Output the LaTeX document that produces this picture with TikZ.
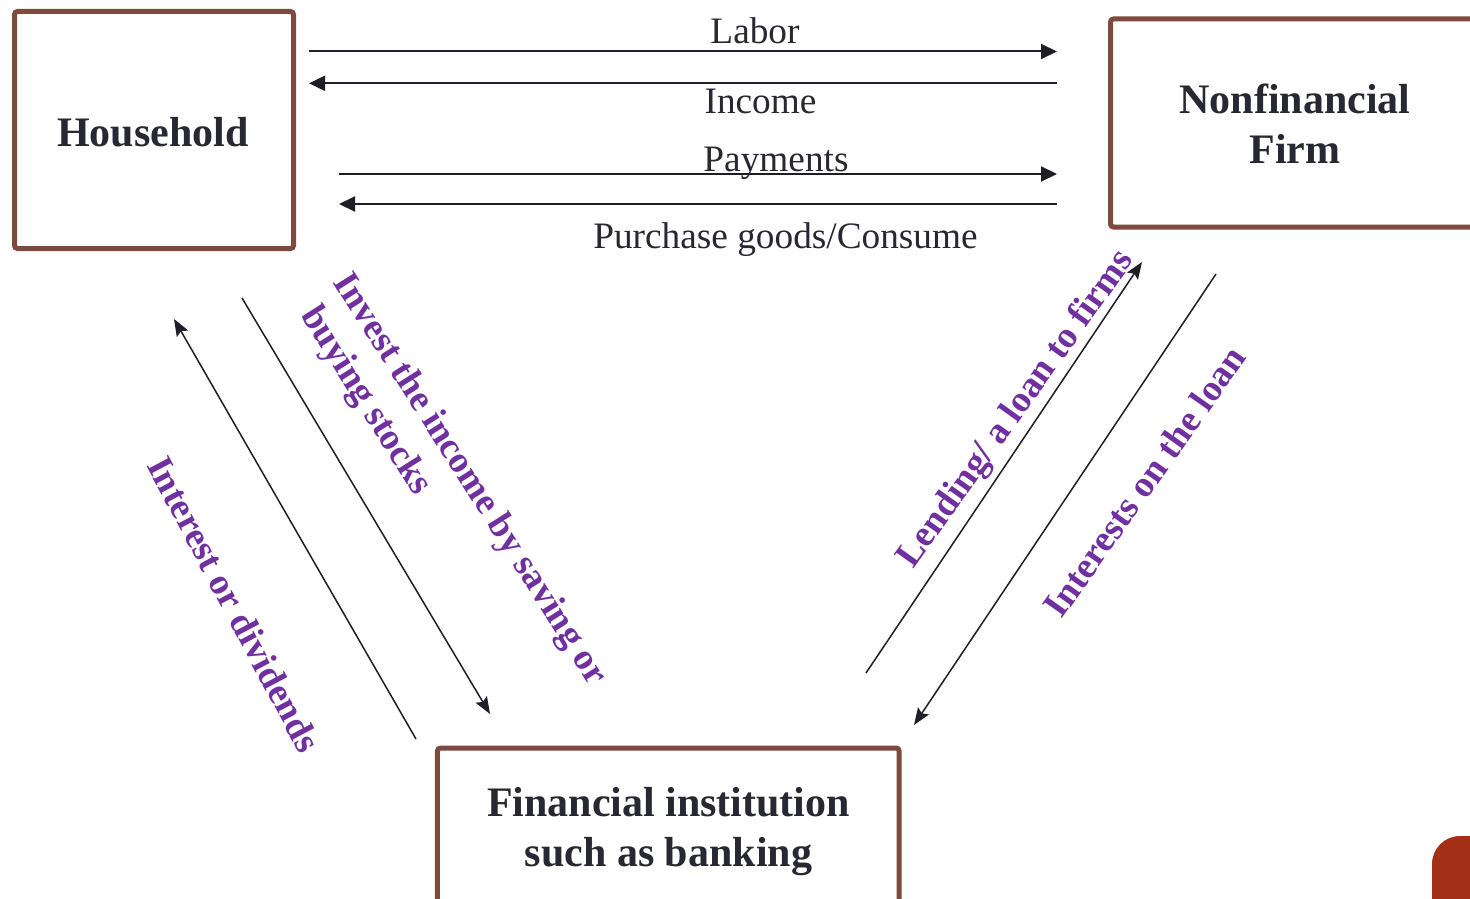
\documentclass[tikz,border=0pt]{standalone}
\usepackage{fontspec}
\setmainfont{Liberation Serif}
\usetikzlibrary{arrows.meta}
\definecolor{boxbrown}{RGB}{126,74,62}
\definecolor{txtdark}{RGB}{40,40,50}
\definecolor{lblpurple}{RGB}{112,48,160}
\definecolor{linedark}{RGB}{30,30,38}
\definecolor{cornerred}{RGB}{165,48,24}
\tikzset{
  boxnode/.style={draw=boxbrown, line width=5pt, rounded corners=3pt, rectangle, inner sep=0pt},
  boxtext/.style={anchor=base, inner sep=0pt, text=txtdark, font=\fontsize{42}{50}\selectfont\bfseries},
  flowtext/.style={anchor=base, inner sep=0pt, text=txtdark, font=\fontsize{37.3}{44}\selectfont},
  purptext/.style={anchor=base west, inner sep=0pt, text=lblpurple, font=\fontsize{37}{44}\selectfont\bfseries},
  toparrow/.style={draw=linedark, line width=2pt, -{Triangle[length=16pt,width=15pt]}},
  diagarrow/.style={draw=linedark, line width=1.5pt, -{Stealth[length=17pt,width=13pt,inset=3pt]}}
}
\begin{document}
\begin{tikzpicture}[x=1pt,y=-1pt]
\useasboundingbox (0,0) rectangle (1470,899);
\clip (0,0) rectangle (1470,899);

% corner decoration
\fill[cornerred, rounded corners=28pt] (1432,836) rectangle (1520,960);

% boxes
\node[boxnode, minimum width=279pt, minimum height=237pt] (hh) at (154,130) {};
\node[boxnode, minimum width=369.5pt, minimum height=208pt] (nf) at (1295.25,123) {};
\node[boxnode, minimum width=461.7pt, minimum height=212pt] (fi) at (668.3,854) {};

\node[boxtext] (hhT) at (153,146.7) {Household};
\node[boxtext] (nfT1) at (1295,113.3) {Nonfinancial};
\node[boxtext] (nfT2) at (1295,163.3) {Firm};
\node[boxtext] (fiT1) at (668.5,816) {Financial institution};
\node[boxtext] (fiT2) at (668.5,866.7) {such as banking};

% top arrow end points
\coordinate (labS) at (309,51.5);
\coordinate (labE) at (1057,51.5);
\coordinate (incS) at (1057,83.3);
\coordinate (incE) at (309,83.3);
\coordinate (payS) at (339,174);
\coordinate (payE) at (1057,174);
\coordinate (purS) at (1057,204);
\coordinate (purE) at (339,204);

\draw[toparrow] (labS) -- (labE);
\draw[toparrow] (incS) -- (incE);
\draw[toparrow] (payS) -- (payE);
\draw[toparrow] (purS) -- (purE);

\node[flowtext] (labT) at (755,43.3) {Labor};
\node[flowtext] (incT) at (760.5,113.3) {Income};
\node[flowtext] (payT) at (776,171.7) {Payments};
\node[flowtext] (purT) at (785.5,248.3) {Purchase goods/Consume};

% diagonal arrows
\coordinate (divS) at (416,739);
\coordinate (divE) at (174,319);
\coordinate (invS) at (242,298);
\coordinate (invE) at (490,714);
\coordinate (lenS) at (866,673);
\coordinate (lenE) at (1142,262);
\coordinate (intS) at (1216,274);
\coordinate (intE) at (914,725);

\draw[diagarrow] (divS) -- (divE);
\draw[diagarrow] (invS) -- (invE);
\draw[diagarrow] (lenS) -- (lenE);
\draw[diagarrow] (intS) -- (intE);

% purple labels
\node[purptext, rotate=-62] (divT) at (146,465) {Interest or dividends};
\node[purptext, rotate=-57.5] (invT1) at (332.7,282) {Invest the income by saving or};
\node[purptext, rotate=-57.5] (invT2) at (300,315.3) {buying stocks};
\node[purptext, rotate=54.5] (lenT) at (913.3,570) {Lending/ a loan to firms};
\node[purptext, rotate=54.7] (intT) at (1061.7,620) {Interests on the loan};
\end{tikzpicture}
\end{document}
